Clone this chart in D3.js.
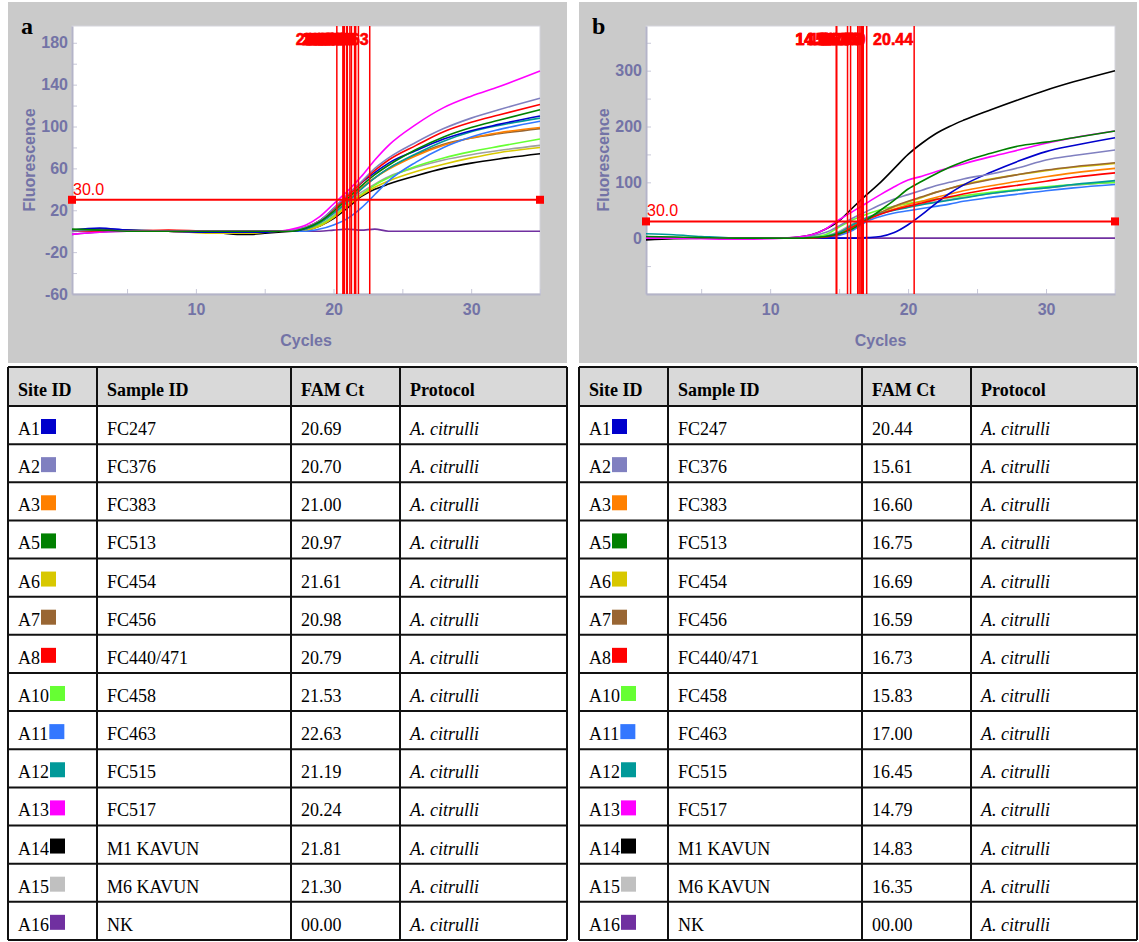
<!DOCTYPE html>
<html>
<head>
<meta charset="utf-8">
<script src="https://cdn.jsdelivr.net/npm/d3@7"></script>
<style>
  body { margin: 0; background: #fff; }
</style>
</head>
<body>
<svg id="chart" width="1139" height="942"></svg>
<script>
// ---- data ----
const sites = ['A1', 'A2', 'A3', 'A5', 'A6', 'A7', 'A8', 'A10', 'A11', 'A12', 'A13', 'A14', 'A15', 'A16'];
const samples = ['FC247', 'FC376', 'FC383', 'FC513', 'FC454', 'FC456', 'FC440/471', 'FC458', 'FC463', 'FC515', 'FC517', 'M1 KAVUN', 'M6 KAVUN', 'NK'];
const colors = ['#0000cc', '#8080c0', '#ff8000', '#008000', '#d8c800', '#996633', '#ff0000', '#66ff33', '#3377ff', '#009999', '#ff00ff', '#000000', '#c0c0c0', '#7030a0'];
const ctA = ['20.69', '20.70', '21.00', '20.97', '21.61', '20.98', '20.79', '21.53', '22.63', '21.19', '20.24', '21.81', '21.30', '00.00'];
const ctB = ['20.44', '15.61', '16.60', '16.75', '16.69', '16.59', '16.73', '15.83', '17.00', '16.45', '14.79', '14.83', '16.35', '00.00'];
const headers = ['Site ID', 'Sample ID', 'FAM Ct', 'Protocol'];
const protocol = 'A. citrulli';

const cycles = [1, 3, 5, 8, 11, 12, 13, 14, 15, 16, 17, 18, 19, 20, 21, 22, 23, 24, 26, 28, 30, 32, 35];

// panel a, one row per site (same order as sites)
const fluorA = [
  [1, 3, 1, 0, -1, -1, -1, -1, -1, 0, 0, 3, 10, 21, 34, 46, 56, 65, 77, 88, 96, 102, 110],
  [0, 1, 0, 0, 0, 0, 0, 0, 0, 0, 1, 4, 10, 22, 35, 47, 60, 70, 85, 98, 108, 116, 127],
  [0, 0, 0, 0, -1, -1, -1, -1, 0, 0, 0, 2, 8, 18, 30, 41, 51, 59, 72, 82, 89, 94, 99],
  [2, 1, 0, 0, 0, 0, 0, 0, 0, 0, 0, 3, 9, 19, 31, 43, 54, 63, 78, 90, 99, 106, 116],
  [0, 0, 0, 0, -2, -2, -2, -2, -1, 0, 0, 1, 5, 13, 24, 34, 42, 48, 57, 64, 70, 75, 80],
  [0, 0, 0, 0, -1, -1, -1, -1, 0, 0, 0, 2, 8, 18, 30, 41, 51, 60, 73, 83, 89, 93, 98],
  [0, 0, 0, 1, 0, 0, 0, 0, 0, 0, 1, 4, 10, 21, 33, 46, 58, 68, 82, 95, 104, 111, 121],
  [0, 0, 0, 0, 0, 0, 0, 0, 0, 0, 0, 1, 6, 14, 25, 35, 44, 51, 62, 70, 76, 81, 88],
  [0, 0, 0, 0, 0, 0, 0, 0, 0, 0, 0, 0, 2, 6, 12, 22, 35, 48, 66, 80, 90, 97, 105],
  [1, 0, 0, 0, 0, 0, 0, 0, 0, 0, 0, 2, 8, 17, 28, 40, 51, 60, 74, 86, 95, 101, 108],
  [-3, -1, 0, 0, 0, 0, 0, 0, 0, 0, 2, 6, 14, 26, 38, 52, 68, 82, 102, 118, 129, 138, 153],
  [1, 2, 1, 0, -1, -2, -3, -3, -2, -1, 0, 1, 5, 12, 22, 33, 40, 45, 53, 60, 65, 69, 74],
  [0, 0, 0, 0, 0, 0, 0, 0, 0, 0, 0, 1, 6, 15, 27, 37, 45, 52, 61, 68, 73, 77, 82],
  [-3, -1, 0, 0, 0, 0, 0, 0, 0, 0, 0, 0, 0, 1, 2, 1, 2, 0, 0, 0, 0, 0, 0]
];

// panel b
const fluorB = [
  [0, 0, 0, 0, 0, 0, 0, 0, 0, 0, 1, 3, 10, 24, 42, 62, 80, 95, 118, 138, 155, 166, 180],
  [0, 0, 0, 0, 0, 1, 4, 10, 22, 36, 48, 60, 70, 78, 86, 94, 100, 106, 115, 126, 140, 148, 158],
  [0, 0, 0, 0, 0, 0, 0, 2, 8, 22, 34, 44, 52, 60, 66, 73, 79, 85, 94, 102, 110, 117, 125],
  [3, 2, 1, 0, 0, 0, 1, 3, 8, 17, 33, 50, 68, 88, 102, 115, 127, 137, 152, 165, 172, 180, 192],
  [0, 0, 0, 0, 0, 0, 0, 2, 8, 20, 34, 46, 56, 65, 73, 82, 89, 96, 106, 114, 121, 127, 134],
  [0, 0, 0, 0, 0, 0, 0, 2, 8, 22, 35, 46, 57, 66, 74, 82, 89, 95, 105, 114, 122, 128, 135],
  [0, 0, 0, 0, 0, 0, 0, 2, 7, 20, 33, 43, 51, 57, 63, 69, 74, 79, 88, 95, 102, 109, 117],
  [2, 1, 0, 0, 0, 0, 2, 6, 20, 33, 43, 51, 57, 62, 66, 70, 73, 76, 82, 87, 92, 96, 100],
  [0, 0, 0, 0, 0, 0, 0, 1, 5, 14, 30, 39, 45, 49, 53, 57, 61, 66, 73, 79, 85, 90, 96],
  [8, 6, 3, 0, 0, 0, 1, 3, 10, 24, 36, 44, 50, 55, 60, 64, 68, 72, 80, 86, 90, 96, 103],
  [0, 0, -1, -2, 0, 2, 6, 16, 33, 48, 63, 78, 92, 104, 111, 119, 126, 133, 146, 158, 170, 180, 192],
  [-3, -1, 0, 0, 0, 2, 6, 16, 31, 55, 78, 100, 125, 150, 170, 187, 200, 211, 230, 248, 265, 280, 300],
  [1, 1, 0, 0, 0, 0, 1, 4, 12, 26, 37, 45, 51, 56, 61, 65, 69, 73, 80, 86, 90, 95, 100],
  [0, 0, 0, 0, 0, 0, 0, 0, 0, 0, 0, 0, 0, 0, 0, 0, 0, 0, 0, 0, 0, 0, 0]
];

const yTicksA = [-60, -20, 20, 60, 100, 140, 180];
const yTicksB = [0, 100, 200, 300];
const xTicks = [10, 20, 30];
const threshold = 30;

// ---- drawing ----
const svg = d3.select('#chart');
const narrow = '"Liberation Sans Narrow","Arial Narrow","Liberation Sans",Arial,sans-serif';
const sans = '"Liberation Sans",Arial,sans-serif';
const serif = '"Liberation Serif","Times New Roman",serif';
const axisColor = '#7373a6';

var drawPanel = (cfg) => {
  var g = svg.append('g');
  var top = 26, bottom = 294;

  g.append('rect')
    .attr('x', cfg.bx).attr('y', 2)
    .attr('width', cfg.bw).attr('height', 361)
    .attr('fill', '#cacaca');

  var x = d3.scaleLinear().domain([1, 35]).range([cfg.left, cfg.right]);
  var y = d3.scaleLinear().domain(cfg.yDomain).range([bottom, top]);

  g.append('rect')
    .attr('x', cfg.left).attr('y', top)
    .attr('width', cfg.right - cfg.left).attr('height', bottom - top)
    .attr('fill', '#fff')
    .attr('stroke', '#d4d4dc').attr('stroke-width', 1);

  // minor tick marks
  g.append('g')
    .attr('transform', `translate(${cfg.left},0)`)
    .call(d3.axisLeft(y).tickValues(d3.range(cfg.yDomain[0], cfg.yDomain[1], cfg.minorStep)).tickSize(-5).tickFormat(''))
    .call(a => a.select('.domain').remove())
    .call(a => a.selectAll('line').attr('stroke', '#c8c8d8'));
  g.append('g')
    .attr('transform', `translate(0,${bottom})`)
    .call(d3.axisBottom(x).tickValues([5, 10, 15, 20, 25, 30, 35]).tickSize(-5).tickFormat(''))
    .call(a => a.select('.domain').remove())
    .call(a => a.selectAll('line').attr('stroke', '#c8c8d8'));

  // labelled axes
  var yAxis = g.append('g')
    .attr('transform', `translate(${cfg.left},0)`)
    .call(d3.axisLeft(y).tickValues(cfg.yTicks).tickSize(0).tickPadding(4).tickFormat(d => String(d)));
  var xAxis = g.append('g')
    .attr('transform', `translate(0,${bottom})`)
    .call(d3.axisBottom(x).tickValues(xTicks).tickSize(0).tickPadding(10).tickFormat(d => String(d)));
  [yAxis, xAxis].forEach(a => {
    a.select('.domain').attr('stroke', '#b4b4c8').attr('stroke-width', 2);
    a.selectAll('text')
      .attr('fill', axisColor)
      .attr('font-family', narrow)
      .attr('font-weight', 'bold')
      .attr('font-size', '16px');
  });

  g.append('text')
    .attr('x', (cfg.left + cfg.right) / 2).attr('y', 346)
    .attr('text-anchor', 'middle')
    .attr('fill', axisColor).attr('font-family', sans).attr('font-weight', 'bold').attr('font-size', '16px')
    .text('Cycles');
  g.append('text')
    .attr('transform', `translate(${cfg.left - 37},${(top + bottom) / 2}) rotate(-90)`)
    .attr('text-anchor', 'middle')
    .attr('fill', axisColor).attr('font-family', sans).attr('font-weight', 'bold').attr('font-size', '16px')
    .text('Fluorescence');

  g.append('text')
    .attr('x', cfg.bx + 13).attr('y', 34)
    .attr('font-family', serif).attr('font-weight', 'bold').attr('font-size', '24px')
    .text(cfg.label);

  // amplification curves
  var line = d3.line()
    .x((d, i) => x(cycles[i]))
    .y(d => y(d))
    .curve(d3.curveMonotoneX);
  var order = [13, 12, 11, 7, 4, 5, 2, 9, 8, 0, 6, 1, 10, 3];
  g.append('g').selectAll('path')
    .data(order)
    .enter().append('path')
    .attr('d', i => line(cfg.data[i]))
    .attr('fill', 'none')
    .attr('stroke', i => i === 12 ? '#a0a0a0' : colors[i])
    .attr('stroke-width', 1.6);

  // threshold
  var ty = y(threshold);
  g.append('line')
    .attr('x1', cfg.left).attr('x2', cfg.right)
    .attr('y1', ty).attr('y2', ty)
    .attr('stroke', '#ff0000').attr('stroke-width', 2);
  [cfg.left, cfg.right].forEach(px => {
    g.append('rect')
      .attr('x', px - 4).attr('y', ty - 4)
      .attr('width', 8).attr('height', 8)
      .attr('fill', '#ff0000');
  });
  g.append('text')
    .attr('x', cfg.left + 1).attr('y', ty - 5)
    .attr('fill', '#ff0000').attr('font-family', narrow).attr('font-size', '16px')
    .text(threshold.toFixed(1));

  // Ct markers
  var cts = cfg.cts.map(Number).filter(v => v > 0);
  g.append('g').selectAll('line')
    .data(cts)
    .enter().append('line')
    .attr('x1', d => x(d)).attr('x2', d => x(d))
    .attr('y1', top).attr('y2', bottom)
    .attr('stroke', '#ff0000').attr('stroke-width', 1.5);
  g.append('g').selectAll('text')
    .data(cts)
    .enter().append('text')
    .attr('x', d => x(d) - 1).attr('y', 45)
    .attr('text-anchor', 'end')
    .attr('fill', '#ff0000')
    .attr('stroke', '#ff0000').attr('stroke-width', 0.6)
    .attr('font-family', narrow).attr('font-weight', 'bold').attr('font-size', '16px')
    .text(d => d.toFixed(2));
};

var drawTable = (edges, cts) => {
  var g = svg.append('g');
  var top = 367, headH = 39, rowH = 38.14;
  var rowY = i => top + headH + i * rowH;
  var bottom = rowY(sites.length);

  g.append('rect')
    .attr('x', edges[0]).attr('y', top)
    .attr('width', edges[4] - edges[0]).attr('height', headH)
    .attr('fill', '#d9d9d9');

  headers.forEach((h, c) => {
    g.append('text')
      .attr('x', edges[c] + 10).attr('y', top + 29)
      .attr('font-family', serif).attr('font-weight', 'bold').attr('font-size', '18px')
      .text(h);
  });

  sites.forEach((s, i) => {
    var by = rowY(i) + 29;
    var t = g.append('text')
      .attr('x', edges[0] + 10).attr('y', by)
      .attr('font-family', serif).attr('font-size', '18px')
      .text(s);
    var w = t.node().getComputedTextLength();
    g.append('rect')
      .attr('x', edges[0] + 11 + w).attr('y', rowY(i) + 13)
      .attr('width', 15).attr('height', 15)
      .attr('fill', colors[i]);
    g.append('text')
      .attr('x', edges[1] + 10).attr('y', by)
      .attr('font-family', serif).attr('font-size', '18px')
      .text(samples[i]);
    g.append('text')
      .attr('x', edges[2] + 10).attr('y', by)
      .attr('font-family', serif).attr('font-size', '18px')
      .text(cts[i]);
    g.append('text')
      .attr('x', edges[3] + 10).attr('y', by)
      .attr('font-family', serif).attr('font-style', 'italic').attr('font-size', '18px')
      .text(protocol);
  });

  // grid lines
  var hs = [top, top + headH].concat(sites.map((s, i) => rowY(i + 1)));
  g.selectAll('.h').data(hs).enter().append('line')
    .attr('x1', edges[0]).attr('x2', edges[4])
    .attr('y1', d => d).attr('y2', d => d)
    .attr('stroke', '#111').attr('stroke-width', 2);
  g.selectAll('.v').data(edges).enter().append('line')
    .attr('x1', d => d).attr('x2', d => d)
    .attr('y1', top).attr('y2', bottom)
    .attr('stroke', '#111').attr('stroke-width', 2);
};

drawPanel({ label: 'a', bx: 8, bw: 559, left: 72, right: 540, yDomain: [-60, 196], yTicks: yTicksA, minorStep: 20, data: fluorA, cts: ctA });
drawPanel({ label: 'b', bx: 579, bw: 558, left: 646, right: 1115, yDomain: [-100, 380], yTicks: yTicksB, minorStep: 50, data: fluorB, cts: ctB });

drawTable([8, 97, 291, 400, 567], ctA);
drawTable([579, 668, 862, 971, 1137], ctB);
</script>
</body>
</html>
